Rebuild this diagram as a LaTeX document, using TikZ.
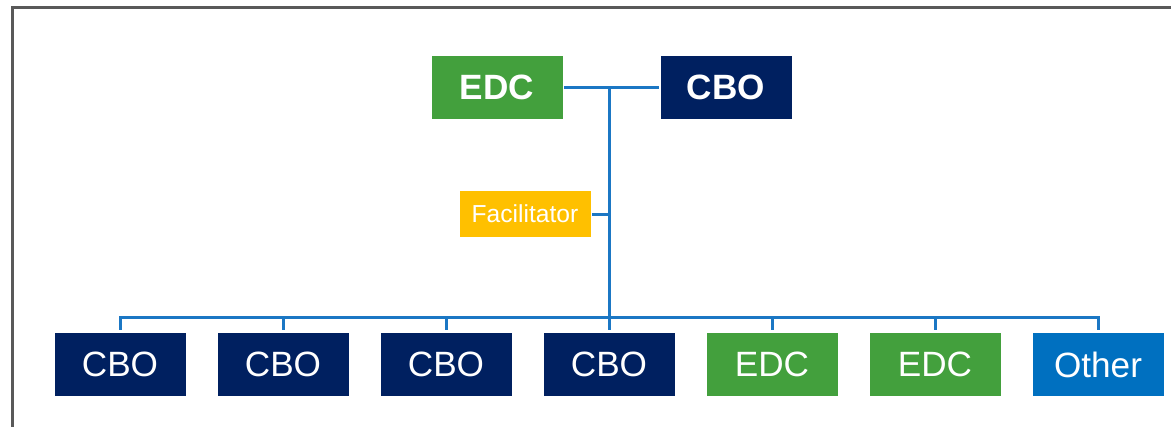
\documentclass[tikz,border=0pt]{standalone}
\usepackage{fontspec}
\setmainfont{Liberation Sans}
\usetikzlibrary{positioning}
\definecolor{edcgreen}{HTML}{43A03D}
\definecolor{cbonavy}{HTML}{002060}
\definecolor{otherblue}{HTML}{0070C0}
\definecolor{facyellow}{HTML}{FFC000}
\definecolor{linkblue}{HTML}{1B77C4}

\begin{document}
\begin{tikzpicture}[
  x=0.1mm, y=-0.1mm,
  every node/.style={font=\fontsize{10}{12}\selectfont, text=white},
  unit/.style ={minimum width=13.1mm, minimum height=6.3mm, inner sep=0pt, outer sep=0pt},
  head/.style ={font=\bfseries\fontsize{10}{12}\selectfont},
  edc/.style  ={unit, fill=edcgreen},
  cbo/.style  ={unit, fill=cbonavy},
  other/.style={unit, fill=otherblue},
  fac/.style  ={fill=facyellow, minimum width=13.1mm, minimum height=4.6mm, inner sep=0pt, outer sep=0pt, font=\fontsize{7}{8}\selectfont},
  link/.style ={draw=linkblue, line width=0.3mm, line cap=rect},
]
  \useasboundingbox (0,0) rectangle (1171,426);
  \draw[line width=0.3mm, draw=black!65] (12,440) -- (12,7) -- (1185,7);

  % partnership at the top
  \node[edc, head] (tedc) at (497,87) {EDC};
  \node[cbo, head, right=9.8mm of tedc] (tcbo) {CBO};
  \coordinate (hub) at (609,87);
  \coordinate (bus) at (609,317);
  \draw[link, shorten <=0.3mm, shorten >=0.3mm] (tedc) -- (tcbo);
  \draw[link] (hub) -- (bus);

  \node[fac] (fac) at (525,214) {Facilitator};
  \draw[link, shorten <=0.3mm] (fac) -- (fac -| hub);

  % members along the bus
  \node[cbo] (b1) at (120,364.5) {CBO};
  \node[cbo, right=3.2mm of b1] (b2) {CBO};
  \node[cbo, right=3.2mm of b2] (b3) {CBO};
  \node[cbo, right=3.2mm of b3] (b4) {CBO};
  \node[edc, right=3.2mm of b4] (b5) {EDC};
  \node[edc, right=3.2mm of b5] (b6) {EDC};
  \node[other, right=3.2mm of b6] (b7) {Other};
  \foreach \i in {1,...,7}\draw[link] ([yshift=0.5mm]b\i.north) -- (b\i.north |- bus);
  \draw[link] (b1.north |- bus) -- (b7.north |- bus);
\end{tikzpicture}
\end{document}
